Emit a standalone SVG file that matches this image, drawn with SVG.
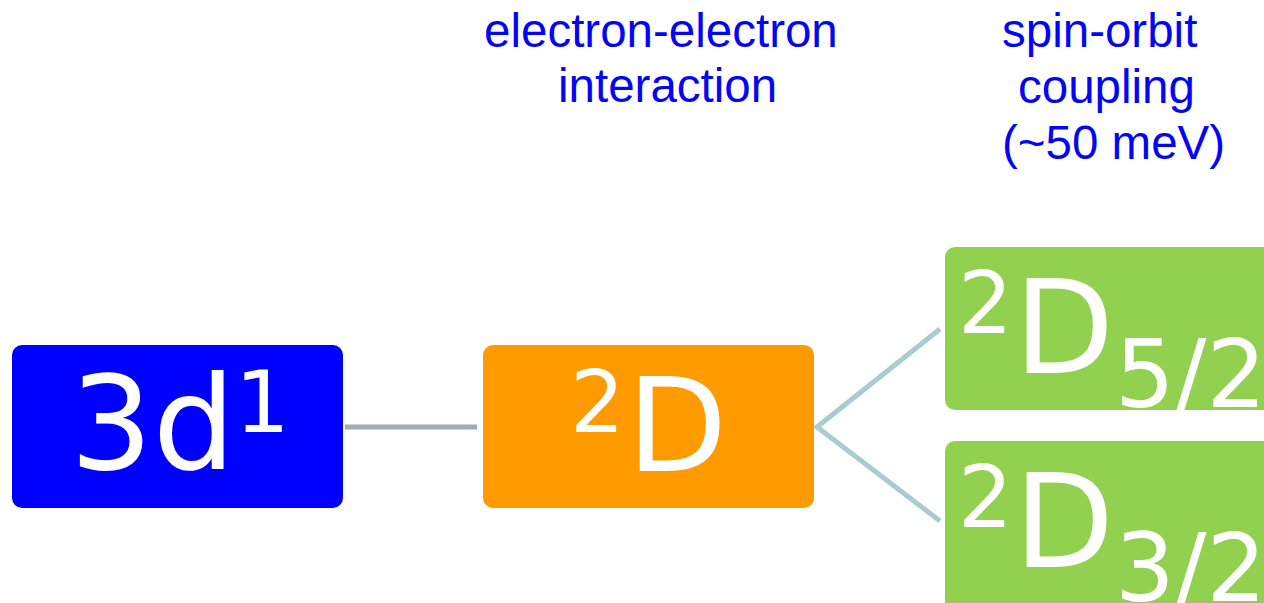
<svg xmlns="http://www.w3.org/2000/svg" width="1264" height="603" viewBox="0 0 1264 603">
  <style>
    .box { stroke: none; }
    .big { font-family: "DejaVu Sans", Verdana, sans-serif; fill: #ffffff; font-size: 130px; }
    .small { font-size: 86px; }
    .sub { font-size: 94px; }
    .label { font-family: "Liberation Sans", Arial, sans-serif; font-size: 47.5px; fill: #0505f5; }
    .wire { fill: none; stroke-width: 5; stroke-linecap: butt; }
  </style>
  <rect width="1264" height="603" fill="#ffffff"/>

  <!-- connectors -->
  <g id="connectors">
    <line class="wire" x1="345" y1="427" x2="477" y2="427" stroke="#9bb0b2"/>
    <polyline class="wire" points="940,329 817,427 940,521" stroke="#a9ccd0"/>
  </g>

  <!-- interaction labels -->
  <g id="labels">
    <text class="label" x="484" y="47">electron-electron</text>
    <text class="label" x="558" y="102">interaction</text>
    <text class="label" x="1002" y="47">spin-orbit</text>
    <text class="label" x="1018" y="103">coupling</text>
    <text class="label" x="1002" y="159">(~50 meV)</text>
  </g>

  <!-- configuration 3d^1 -->
  <g id="node-3d1">
    <rect class="box" x="12" y="345" width="331" height="163" rx="10" fill="#0000ff"/>
    <text class="big" x="70" y="469">3d<tspan class="small" x="235" y="432">1</tspan></text>
  </g>

  <!-- term 2D -->
  <g id="node-2D">
    <rect class="box" x="483" y="345" width="331" height="163" rx="10" fill="#ff9a00"/>
    <text class="big" x="570" y="432"><tspan class="small">2</tspan><tspan x="627" y="471">D</tspan></text>
  </g>

  <!-- level 2D 5/2 -->
  <g id="node-2D52">
    <rect class="box" x="945" y="247" width="340" height="163" rx="10" fill="#92d050"/>
    <text class="big" x="958" y="333"><tspan class="small">2</tspan><tspan x="1014" y="373">D</tspan><tspan class="sub" x="1115" y="407">5/2</tspan></text>
  </g>

  <!-- level 2D 3/2 -->
  <g id="node-2D32">
    <rect class="box" x="945" y="441" width="340" height="175" rx="10" fill="#92d050"/>
    <text class="big" x="958" y="527"><tspan class="small">2</tspan><tspan x="1014" y="567">D</tspan><tspan class="sub" x="1115" y="601">3/2</tspan></text>
  </g>
</svg>
